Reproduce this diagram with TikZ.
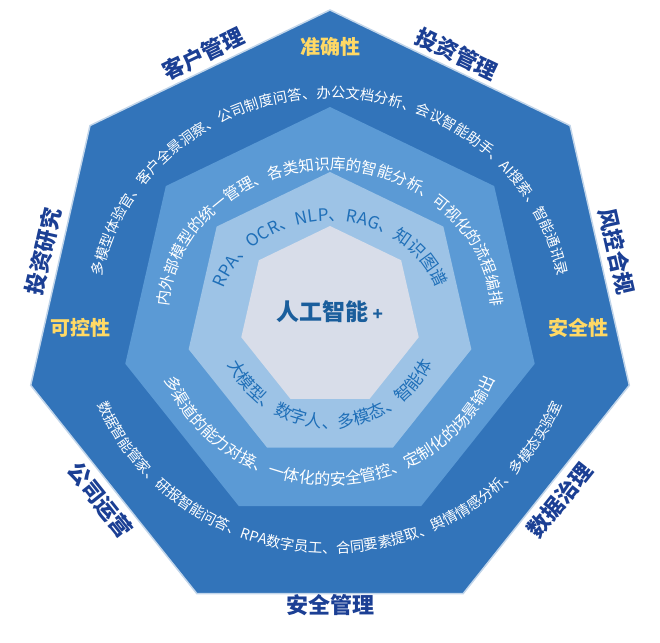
\documentclass[tikz,border=0pt]{standalone}
\usepackage{fontspec}
\setmainfont{Noto Sans CJK SC}
\usetikzlibrary{shapes.geometric,decorations.text,calc}
\definecolor{cA}{HTML}{3274BA}
\definecolor{cB}{HTML}{5B9AD5}
\definecolor{cC}{HTML}{9DC3E6}
\definecolor{cD}{HTML}{D8DDE9}
\definecolor{lab}{HTML}{1B3F94}
\definecolor{yel}{HTML}{FFD965}
\definecolor{inb}{HTML}{1F6FB8}
\tikzset{
 hept/.style={regular polygon,regular polygon sides=7,inner sep=0pt,outer sep=0pt,minimum size=#1},
 outlab/.style={font=\bfseries\fontsize{22}{22}\selectfont,text=lab,inner sep=0pt},
 yellab/.style={font=\bfseries\fontsize{20}{20}\selectfont,text=yel,inner sep=0pt},
}
\newcommand{\ctext}[3]{\path[decorate,decoration={text along path,text align=center,text color=#1,text={|\fontsize{#2}{#2}\selectfont|#3}}]}
\begin{document}
\begin{tikzpicture}[x=1pt,y=1pt]
\useasboundingbox (0,0) rectangle (660,642);
\coordinate (C) at (330,325);
\node[hept=614pt,fill=cA,draw=white!70!cA,line width=1.5pt] (h1) at (C) {};
\node[hept=420pt,fill=cB] (h2) at (C) {};
\node[hept=290pt,fill=cC] (h3) at (C) {};
\node[hept=182pt,fill=cD] (h4) at (C) {};
% outer ring texts
\ctext{white}{14.3}{多模型体验官、客户全景洞察、公司制度问答、办公文档分析、会议智能助手、AI搜索、智能通讯录} ($(C)+(176:232 and 219)$) arc[start angle=176,end angle=4,x radius=232,y radius=219];
\ctext{white}{14.3}{数据智能管家、研报智能问答、RPA数字员工、合同要素提取、舆情情感分析、多模态实验室} ($(C)+(193:250 and 236)$) arc[start angle=193,end angle=347,x radius=250,y radius=236];
% middle ring texts
\ctext{white}{15.5}{内外部模型的统一管理、各类知识库的智能分析、可视化的流程编排} ($(C)+(184:162 and 147)$) arc[start angle=184,end angle=-4,x radius=162,y radius=147];
\ctext{white}{16}{多渠道的能力对接、一体化的安全管控、定制化的场景输出} ($(C)+(190:178 and 168)$) arc[start angle=190,end angle=350,x radius=178,y radius=168];
% inner ring texts
\ctext{inb}{17}{RPA、OCR、NLP、RAG、知识图谱} ($(C)+(178:111 and 96)$) arc[start angle=178,end angle=2,x radius=111,y radius=96];
\ctext{inb}{17}{大模型、数字人、多模态、智能体} ($(C)+(192:113 and 111)$) arc[start angle=192,end angle=348,x radius=113,y radius=111];
% center
\node[font=\bfseries\fontsize{23}{23}\selectfont,text=inb!85!black] (ctr) at (330,330) {人工智能\,{\fontsize{17}{17}\selectfont+}};
% outer labels
\node[outlab,rotate=25.71] (l1) at ($(C)+(115.71:292)$) {客户管理};
\node[outlab,rotate=-25.71] (l2) at ($(C)+(64.29:292)$) {投资管理};
\node[outlab,rotate=-77.14] (l3) at ($(C)+(12.86:294)$) {风控合规};
\node[outlab,rotate=51.43] (l4) at ($(C)+(-38.57:294)$) {数据治理};
\node[outlab] (l5) at ($(C)+(-90:288)$) {安全管理};
\node[outlab,rotate=-51.43] (l6) at ($(C)+(-141.43:294)$) {公司运营};
\node[outlab,rotate=77.14] (l7) at ($(C)+(167.14:294)$) {投资研究};
% yellow labels
\node[yellab] (y1) at (330,595) {准确性};
\node[yellab] (y2) at (80,314) {可控性};
\node[yellab] (y3) at (578,314) {安全性};
\end{tikzpicture}
\end{document}
